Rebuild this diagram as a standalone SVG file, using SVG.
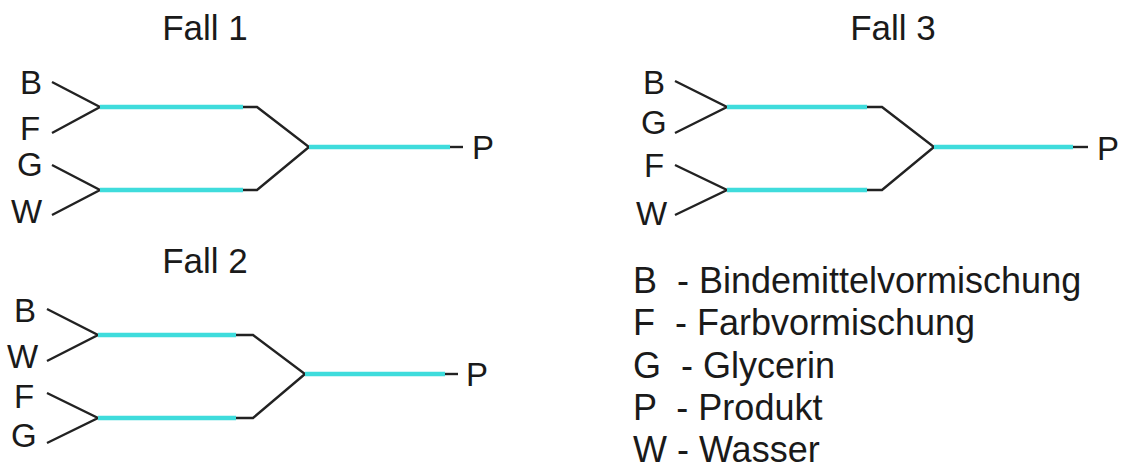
<svg xmlns="http://www.w3.org/2000/svg" width="1123" height="473" viewBox="0 0 1123 473">
  <style>
    text { font-family: "Liberation Sans", Arial, sans-serif; fill: #1a1a1a; }
    .title { font-size: 35px; text-anchor: middle; }
    .lbl { font-size: 33px; }
    .leg { font-size: 36px; }
    .wire { stroke: #222; stroke-width: 2.4; fill: none; stroke-linejoin: miter; }
    .flow { stroke: #3fdcdc; stroke-width: 4.5; fill: none; }
  </style>
  <rect width="1123" height="473" fill="#ffffff"/>

  <!-- Case 1 -->
  <g id="fall1">
    <text class="title" x="205" y="40">Fall 1</text>
    <g id="fall1-inputs">
      <text class="lbl" x="20" y="94">B</text>
      <text class="lbl" x="20" y="140">F</text>
      <text class="lbl" x="17" y="176">G</text>
      <text class="lbl" x="11" y="223">W</text>
    </g>
    <text id="fall1-p" class="lbl" x="472" y="159">P</text>
  </g>
  <g id="fall1-connectors">
    <path class="wire" d="M52 82 L100 107 L52 133"/>
    <path class="wire" d="M52 165 L100 190 L52 215"/>
    <path class="wire" d="M242 107 H257 L309 147 L257 190 H242"/>
    <path class="wire" d="M449 147 H463"/>
    <path class="flow" d="M100 107 H243"/>
    <path class="flow" d="M100 190 H243"/>
    <path class="flow" d="M309 147 H450"/>
  </g>

  <!-- Case 2 -->
  <g id="fall2">
    <text class="title" x="205" y="273">Fall 2</text>
    <g id="fall2-inputs">
      <text class="lbl" x="14" y="322">B</text>
      <text class="lbl" x="7" y="368">W</text>
      <text class="lbl" x="14" y="408">F</text>
      <text class="lbl" x="11" y="447">G</text>
    </g>
    <text id="fall2-p" class="lbl" x="466" y="386">P</text>
  </g>
  <g id="fall2-connectors">
    <path class="wire" d="M47 309 L98 335 L47 361"/>
    <path class="wire" d="M47 393 L98 418 L47 443"/>
    <path class="wire" d="M235 335 H253 L305 374 L253 418 H235"/>
    <path class="wire" d="M444 374 H458"/>
    <path class="flow" d="M98 335 H236"/>
    <path class="flow" d="M98 418 H236"/>
    <path class="flow" d="M305 374 H445"/>
  </g>

  <!-- Case 3 -->
  <g id="fall3">
    <text class="title" x="893" y="40">Fall 3</text>
    <g id="fall3-inputs">
      <text class="lbl" x="643" y="94">B</text>
      <text class="lbl" x="641" y="134">G</text>
      <text class="lbl" x="644" y="177">F</text>
      <text class="lbl" x="636" y="225">W</text>
    </g>
    <text id="fall3-p" class="lbl" x="1097" y="160">P</text>
  </g>
  <g id="fall3-connectors">
    <path class="wire" d="M675 81 L727 107 L675 133"/>
    <path class="wire" d="M675 165 L727 190 L675 215"/>
    <path class="wire" d="M866 107 H882 L934 147 L882 190 H866"/>
    <path class="wire" d="M1072 147 H1088"/>
    <path class="flow" d="M727 107 H867"/>
    <path class="flow" d="M727 190 H867"/>
    <path class="flow" d="M934 147 H1073"/>
  </g>

  <!-- Legend -->
  <g id="legend">
    <text class="leg" x="633" y="293" xml:space="preserve">B  - Bindemittelvormischung</text>
    <text class="leg" x="633" y="335" xml:space="preserve">F  - Farbvormischung</text>
    <text class="leg" x="633" y="378" xml:space="preserve">G  - Glycerin</text>
    <text class="leg" x="633" y="420" xml:space="preserve">P  - Produkt</text>
    <text class="leg" x="633" y="462" xml:space="preserve">W - Wasser</text>
  </g>
</svg>
